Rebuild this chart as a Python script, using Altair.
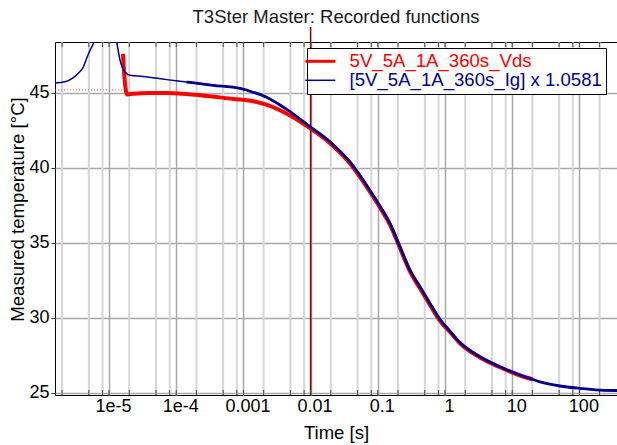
import altair as alt
import pandas as pd

title_text = "T3Ster Master: Recorded functions"
x_title = "Time [s]"
y_title = "Measured temperature [°C]"
series_names = ["5V_5A_1A_360s_Vds", "[5V_5A_1A_360s_Ig] x 1.0581"]
series_colors = ["#ff0000", "#00008f"]

# [5V_5A_1A_360s_Ig] x 1.0581
ig_time = [1.57e-6, 2.21e-6, 2.94e-6, 3.46e-6, 4.15e-6, 4.71e-6, 5.22e-6, 5.98e-6,
           6.86e-6, 8.42e-6, 1.035e-5, 1.19e-5, 1.30e-5, 1.46e-5, 1.73e-5, 2.05e-5,
           3.21e-5, 7.22e-5, 1.43e-4, 3.53e-4, 8.90e-4, 1.39e-3, 2.25e-3, 3.50e-3,
           4.94e-3, 6.96e-3, 9.80e-3, 1.94e-2, 3.86e-2, 7.66e-2, 0.108, 0.152, 0.214,
           0.301, 0.425, 0.598, 0.842, 1.19, 1.67, 3.32, 6.58, 13.06, 25.9, 51.4,
           102.0, 203.0, 363.0]
ig_temp = [45.67, 45.75, 46.03, 46.3, 46.73, 47.38, 47.85, 48.4,
           49.3, 50.4, 50.3, 49.3, 48.4, 47.18, 46.4, 46.18,
           46.1, 45.89, 45.73, 45.51, 45.3, 45.05, 44.7, 44.2,
           43.75, 43.25, 42.75, 41.75, 40.4, 38.5, 37.45, 36.3, 34.73,
           33.18, 32.07, 30.96, 29.9, 29.1, 28.35, 27.4, 26.73, 26.18, 25.73, 25.45,
           25.29, 25.18, 25.15]

# 5V_5A_1A_360s_Vds
vds_time = [1.61e-5, 1.70e-5, 1.85e-5, 2.28e-5, 4.07e-5, 7.3e-5, 2.26e-4, 7.0e-4,
            1.39e-3, 2.25e-3, 3.50e-3, 4.94e-3, 6.96e-3, 9.80e-3, 1.94e-2, 3.86e-2,
            7.66e-2, 0.108, 0.152, 0.214, 0.301, 0.425, 0.598, 0.842, 1.19, 1.67,
            3.32, 6.58, 13.06, 20.0]
vds_temp = [47.6, 46.0, 44.9, 44.95, 45.0, 45.0, 44.85, 44.6,
            44.45, 44.2, 43.85, 43.5, 43.1, 42.65, 41.65, 40.3,
            38.4, 37.35, 36.2, 34.65, 33.1, 31.95, 30.85, 29.8, 29.05, 28.3,
            27.35, 26.7, 26.15, 25.9]

# dotted extrapolation of Vds before the first sample
vds_pre_time = [1.57e-6, 1.61e-5]
vds_pre_temp = [45.2, 45.2]

cursor_time = [0.01]

x_tick_values = [1e-5, 1e-4, 1e-3, 1e-2, 1e-1, 1, 10, 100]
x_tick_labels = ["1e-5", "1e-4", "0.001", "0.01", "0.1", "1", "10", "100"]
y_tick_values = [25, 30, 35, 40, 45]
minor_multipliers = [2, 5, 8]
decades = [1e-6, 1e-5, 1e-4, 1e-3, 1e-2, 1e-1, 1, 10, 100]
x_domain = [1.57e-6, 363]
y_domain = [24.85, 48.4]

W, H = 562, 353
FONT = "Liberation Sans"

minor_vals = [d * m for d in decades for m in minor_multipliers if d * m <= x_domain[1]]
all_tick_vals = sorted(minor_vals + x_tick_values)

df_ig = pd.DataFrame({"t": ig_time, "temp": ig_temp, "series": series_names[1]})
df_vds = pd.DataFrame({"t": vds_time, "temp": vds_temp, "series": series_names[0]})
df_pre = pd.DataFrame({"t": vds_pre_time, "temp": vds_pre_temp})
df_minor = pd.DataFrame({"t": minor_vals})
df_ticks = pd.DataFrame({"t": all_tick_vals})
df_cursor = pd.DataFrame({"t": cursor_time})

label_arr = "[" + ",".join(f"'{s}'" for s in x_tick_labels) + "]"
xscale = alt.Scale(type="log", domain=x_domain, nice=False)
yscale = alt.Scale(domain=y_domain, nice=False, zero=False)

xaxis = alt.Axis(values=x_tick_values,
                 labelExpr=f"{label_arr}[round(log(datum.value)/LN10)+5]",
                 title=x_title, titleFont=FONT, titleFontSize=18.5, titleFontWeight="normal",
                 titleColor="black", labelFont=FONT, labelFontSize=18, labelColor="black",
                 ticks=False, tickSize=0, domain=False, grid=True, gridColor="#a8a8a8",
                 gridWidth=1.5, labelPadding=2, titlePadding=8, labelOffset=4, labelFlush=False)
yaxis = alt.Axis(values=y_tick_values, title=y_title, titleFont=FONT, titleFontSize=18.6,
                 titleFontWeight="normal", titleColor="black", labelFont=FONT,
                 labelFontSize=18, labelColor="black", tickSize=4, tickColor="#333333",
                 domain=False, grid=True, gridColor="#a8a8a8", gridWidth=1.5,
                 labelPadding=2, titlePadding=1, titleY=167)

X = alt.X("t:Q", scale=xscale, axis=xaxis)
Y = alt.Y("temp:Q", scale=yscale, axis=yaxis)

legend = alt.Legend(
    title=None, orient="none", legendX=252, legendY=6, fillColor="white",
    strokeColor="black", padding=4, symbolType="stroke", symbolSize=900,
    symbolStrokeWidth=alt.ExprRef(f"datum.value === '{series_names[0]}' ? 3 : 1.5"),
    labelColor=alt.ExprRef(f"datum.value === '{series_names[0]}' ? '{series_colors[0]}' : '{series_colors[1]}'"),
    labelFont=FONT, labelFontSize=18.6, labelOffset=20, labelLimit=400, rowPadding=0,
    symbolOffset=0,
)
color = alt.Color("series:N", scale=alt.Scale(domain=series_names, range=series_colors),
                  legend=legend)

minor_grid = alt.Chart(df_minor).mark_rule(color="#d6d6d6", strokeWidth=2).encode(x=X)

cursor = alt.Chart(df_cursor).mark_rule(color="#800000", strokeWidth=1.5, clip=False).encode(
    x=X, y=alt.value(-15), y2=alt.value(H))

ticks_bottom = alt.Chart(df_ticks).mark_rule(color="#444444", strokeWidth=1).encode(
    x=X, y=alt.value(H), y2=alt.value(H - 5))
ticks_top = alt.Chart(df_ticks).mark_rule(color="#444444", strokeWidth=1).encode(
    x=X, y=alt.value(0), y2=alt.value(5))

pre_line = alt.Chart(df_pre).mark_line(color="#ff5050", strokeWidth=1, strokeDash=[1, 2],
                                       clip=True).encode(x=X, y=Y)

vds_line = alt.Chart(df_vds).mark_line(strokeWidth=4, clip=True, interpolate="monotone").encode(
    x=X, y=Y, color=color)

ig_thin = alt.Chart(df_ig).mark_line(strokeWidth=1.5, clip=True, interpolate="monotone").encode(
    x=X, y=Y, color=color)

ig_thick = alt.Chart(df_ig).transform_filter("datum.t >= 1.4e-4").mark_line(
    strokeWidth=2.8, clip=True, interpolate="monotone", color=series_colors[1]).encode(x=X, y=Y)

chart = alt.layer(
    minor_grid, cursor, ticks_bottom, ticks_top, pre_line, vds_line, ig_thin, ig_thick
).properties(
    width=W, height=H,
    padding={"left": 55, "top": 42, "right": 0, "bottom": 50},
    autosize=alt.AutoSizeParams(type="none"),
    title=alt.TitleParams(title_text, font=FONT, fontSize=18.5, fontWeight="normal",
                          color="#1a1a1a", anchor="middle", frame="group", offset=11,
                          baseline="alphabetic", dy=26),
).configure_view(stroke="black", strokeWidth=1)

chart.save("out.html", embed_options={"renderer": "svg", "actions": False})
